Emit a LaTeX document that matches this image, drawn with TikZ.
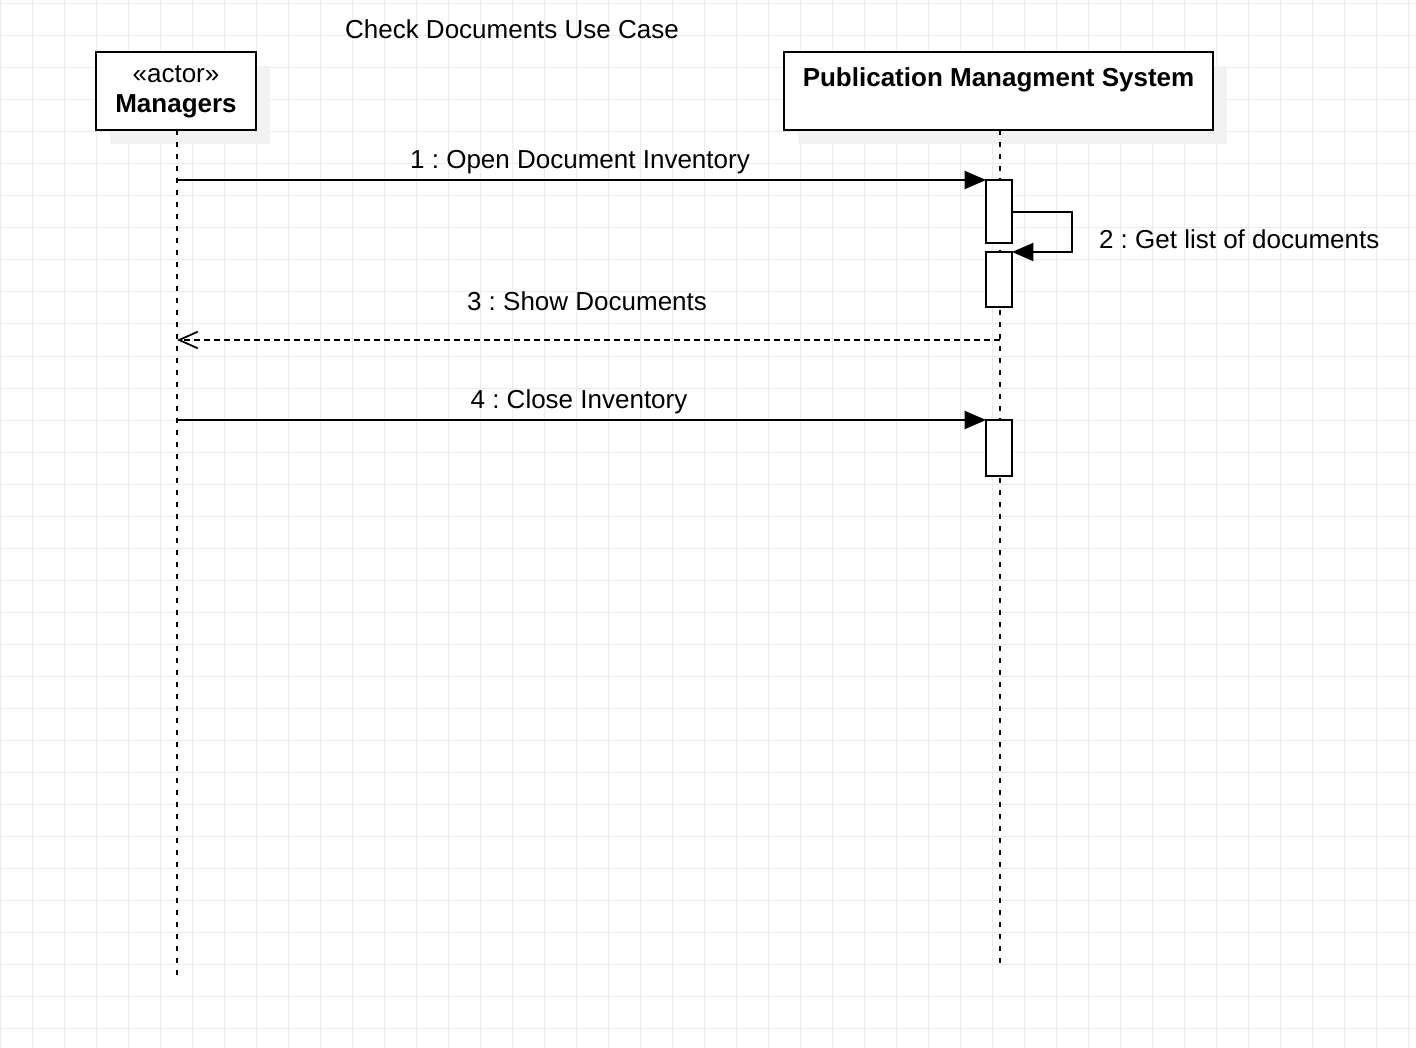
\documentclass[tikz,border=0pt]{standalone}
\usepackage{fontspec}
\setmainfont{Liberation Sans}
\usetikzlibrary{arrows.meta}
\frenchspacing
\begin{document}
\begin{tikzpicture}[x=0.75pt,y=-0.75pt,
  every node/.style={font=\fontsize{19.5pt}{22.5pt}\selectfont, inner sep=0pt, outer sep=0pt},
  gridline/.style={draw=black!8, line width=0.75pt},
  box/.style={draw=black, line width=1.5pt, fill=white, rectangle, minimum height=58.5pt},
  shadowbox/.style={fill=black!5},
  act/.style={draw=black, line width=1.4pt, fill=white, rectangle, minimum width=19.5pt},
  lifeline/.style={draw=black, line width=1.5pt, dash pattern=on 4pt off 5pt},
  msg/.style={draw=black, line width=1.5pt, -{Triangle[length=16pt,width=13.5pt]}},
  ret/.style={draw=black, line width=1.5pt, dash pattern=on 4.5pt off 3pt, -{Straight Barb[length=14pt,width=12.5pt,line width=1.3pt]}},
  lbl/.style={text height=14pt, text depth=0pt}]
\useasboundingbox (0,0) rectangle (1416,1048);
\fill[white] (0,0) rectangle (1416,1048);
% grid
\foreach \gx in {0,32,...,1416} {\draw[gridline] (\gx+0.5,0) -- (\gx+0.5,1048);}
\foreach \gy in {4,36,...,1048} {\draw[gridline] (0,\gy) -- (1416,\gy);}
% title
\node[lbl] (title) at (512,29) {Check Documents Use Case};
% shadows
\fill[shadowbox] (110,66) rectangle (270,144);
\fill[shadowbox] (798,66) rectangle (1227,144);
% lifeline boxes
\node[box, minimum width=120pt] (mgr) at (176,91) {};
\node[lbl] (mgrst) at (176,73) {«actor»};
\node[lbl] (mgrtxt) at (176,103) {\textbf{Managers}};
\node[box, minimum width=321.75pt] (pms) at (998.5,91) {};
\node[lbl] (pmstxt) at (998.5,77) {\textbf{Publication Managment System}};
% lifelines
\coordinate (mgrend) at (177,977);
\coordinate (pmsend) at (1000,963);
\draw[lifeline] (mgr.south -| mgrend) -- (mgrend);
\draw[lifeline] (pms.south -| pmsend) -- (pmsend);
% activations
\node[act, minimum height=47.25pt] (a1) at (999,211.5) {};
\node[act, minimum height=41.25pt] (a2) at (999,279.5) {};
\node[act, minimum height=42pt] (a3) at (999,448) {};
% message 1
\coordinate (m1s) at (177,180);
\draw[msg] (m1s) -- (m1s -| a1.west);
\node[lbl] (l1) at (580,159) {1 : Open Document Inventory};
% self message 2
\coordinate (s2a) at (1012,212);
\coordinate (s2b) at (1072,212);
\coordinate (s2c) at (1072,252);
\draw[msg] (s2a) -- (s2b) -- (s2c) -- (s2c -| a2.east);
\node[lbl, anchor=west] (l2) at (1099,239) {2 : Get list of documents};
% message 3
\coordinate (m3s) at (1000,340);
\coordinate (m3e) at (177,340);
\draw[ret] (m3s) -- (m3e);
\node[lbl] (l3) at (587,301) {3 : Show Documents};
% message 4
\coordinate (m4s) at (177,420);
\draw[msg] (m4s) -- (m4s -| a3.west);
\node[lbl] (l4) at (579,399) {4 : Close Inventory};
\end{tikzpicture}
\end{document}
